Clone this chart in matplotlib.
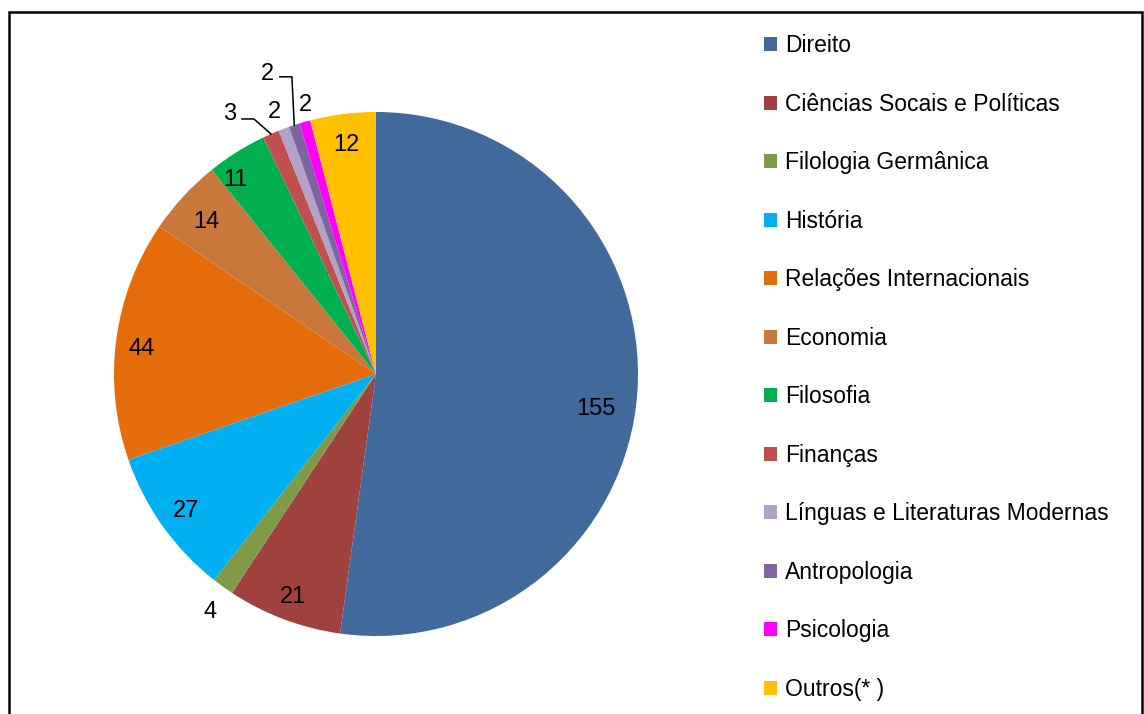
import numpy as np
import matplotlib
matplotlib.use("Agg")
import matplotlib.pyplot as plt
from matplotlib.patches import Rectangle

plt.rcParams['font.family'] = ['Liberation Sans', 'DejaVu Sans']

cursos = ['Direito', 'Ciências Socais e Políticas', 'Filologia Germânica', 'História',
          'Relações Internacionais', 'Economia', 'Filosofia', 'Finanças',
          'Línguas e Literaturas Modernas', 'Antropologia', 'Psicologia', 'Outros(* )']
alunos = [155, 21, 4, 27, 44, 14, 11, 3, 2, 2, 2, 12]
cores = ['#41699c', '#9e413f', '#7f9b48', '#00b0f0', '#e46c0a', '#c8783a',
         '#00b050', '#c0504d', '#b3a2c7', '#8064a2', '#ff00ff', '#ffc000']

# label placement: (radial fraction, angle shift in degrees)
lab_pos = [(0.85, -4.5), (0.9, 0), (1.1, 0.7), (0.89, 0), (0.9, 1.0), (0.875, 0.5),
           (0.92, 3.5), (1.145, 5.5), (1.08, 0.5), (1.225, 1.5), (1.07, -1.1), (0.89, 0)]
leader = [7, 9]  # slices with leader lines

fig = plt.figure(figsize=(11.44, 7.14), dpi=100)
ax = fig.add_axes([0, 0, 1, 1])

cx, cy, R = 376, 340, 262
wedges, _ = ax.pie(alunos, colors=cores, startangle=90, counterclock=False,
                   center=(cx, cy), radius=R, frame=True,
                   wedgeprops=dict(linewidth=0))
ax.set_xlim(0, 1144)
ax.set_ylim(0, 714)
ax.set_aspect('equal')
ax.axis('off')

for i, w in enumerate(wedges):
    mid = np.deg2rad((w.theta1 + w.theta2) / 2)
    f, shift = lab_pos[i]
    a = mid + np.deg2rad(shift)
    lx, ly = cx + R * f * np.cos(a), cy + R * f * np.sin(a)
    ax.text(lx, ly - 2, str(alunos[i]), ha='center', va='center', fontsize=17, color='black')
    if i in leader:
        ex, ey = cx + R * np.cos(mid), cy + R * np.sin(mid)
        yl = ly - 7 if i == 7 else ly - 5
        ax.plot([lx + 12, lx + 24, ex], [yl, yl, ey], color='black', lw=1.1)

leg = ax.legend(wedges, cursos, loc='upper left', bbox_to_anchor=(755 / 1144, 1 - 25 / 714),
                frameon=False, fontsize=16.5, handlelength=0.57, handleheight=0.57,
                handletextpad=0.35, labelspacing=1.55, borderaxespad=0)

ax.add_patch(Rectangle((8.5, -20), 1133, 714 - 11.5 + 20, fill=False,
                       edgecolor='black', linewidth=1.8, clip_on=False))

fig.savefig('out.png', dpi=100)
